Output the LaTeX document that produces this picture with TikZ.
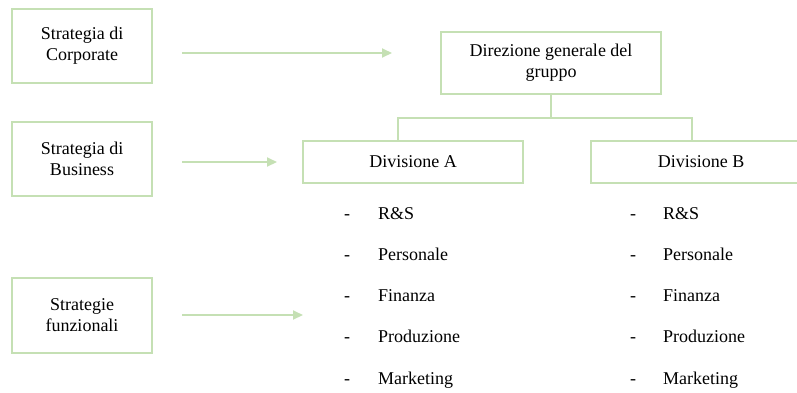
\documentclass[tikz,border=0pt]{standalone}
\usepackage{fontspec}
\setmainfont{Liberation Serif}
\usepackage{tikz}
\usetikzlibrary{arrows.meta}

\definecolor{boxgreen}{HTML}{C5E0B4}

\tikzset{
  box/.style={draw=boxgreen, line width=2pt, rectangle, align=center,
    inner sep=0pt, font=\fontsize{18}{21}\selectfont},
  conn/.style={draw=boxgreen, line width=2pt},
  flow/.style={draw=boxgreen, line width=2pt,
    -{Triangle[length=10pt,width=9pt]}},
  item/.style={anchor=west, inner sep=0pt, text height=12pt, text depth=4pt,
    font=\fontsize{18}{21}\selectfont},
  itemdash/.style={inner sep=0pt, text height=12pt, text depth=4pt,
    font=\fontsize{18}{21}\selectfont}
}

\begin{document}
\begin{tikzpicture}[x=1pt,y=-1pt]

        \useasboundingbox (0,0) rectangle (797,392);
        \clip (0,0) rectangle (797,392);

        \def\gap{41.25}

        % livelli di strategia
        \node[box, minimum width=140pt, minimum height=74pt] (corp) at (82,46) {Strategia di\\Corporate};
        \node[box, minimum width=140pt, minimum height=74pt] (bus) at (82,159) {Strategia di\\Business};
        \node[box, minimum width=140pt, minimum height=75pt] (funz) at (82,315.5) {Strategie\\funzionali};

        % organigramma
        \node[box, minimum width=220pt, minimum height=62pt] (dir) at (551,63) {Direzione generale del\\gruppo};
        \node[box, minimum width=220pt, minimum height=42pt] (divA) at (413,162) {Divisione A};
        \node[box, minimum width=220pt, minimum height=42pt] (divB) at (701,162) {Divisione B};

        \coordinate (ja) at (398,118);
        \coordinate (jb) at (692,118);
        \draw[conn] (dir.south) -- (dir.south |- ja);
        \draw[conn] (divA.north -| ja) -- (ja) -- (jb) -- (divB.north -| jb);

        % frecce
        \coordinate (c1s) at (182,53);
        \coordinate (c1e) at (392,53);
        \coordinate (c2s) at (182,162);
        \coordinate (c2e) at (277,162);
        \coordinate (c3s) at (182,315);
        \coordinate (c3e) at (303,315);
        \draw[flow] (c1s) -- (c1e);
        \draw[flow] (c2s) -- (c2e);
        \draw[flow] (c3s) -- (c3e);

        % funzioni
        \foreach \txt [count=\i] in {R\&S, Personale, Finanza, Produzione, Marketing} {
          \node[itemdash] (dashA\i) at (347,{215+(\i-1)*\gap}) {-};
          \node[item] (itemA\i) at (378,{215+(\i-1)*\gap}) {\txt};
          \node[itemdash] (dashB\i) at (633,{215+(\i-1)*\gap}) {-};
          \node[item] (itemB\i) at (663,{215+(\i-1)*\gap}) {\txt};
        }

    \end{tikzpicture}
\end{document}
